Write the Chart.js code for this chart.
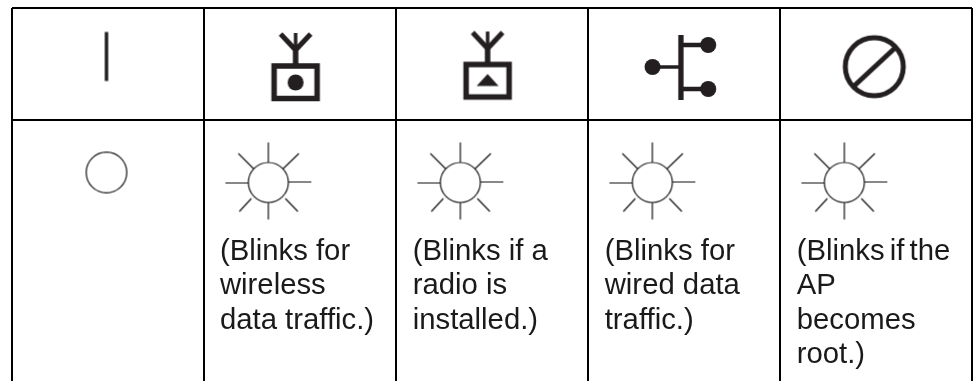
<!DOCTYPE html>
<html>
<head>
<meta charset="utf-8">
<style>
  html, body { margin: 0; background: #fff; }
  canvas { display: block; }
</style>
<script src="https://cdn.jsdelivr.net/npm/chart.js@4"></script>
</head>
<body>
<canvas id="chart" width="974" height="381"></canvas>
<script>
// ── Table values (x in columns, y in px below the top rule) ────────────────
const columnLines = [0, 1, 2, 3, 4, 5];
const rowLines = [0, 112];

const statusIcons = ["power", "radioDot", "radioTriangle", "ethernet", "root"];
const statusX = [0.492, 1.477, 2.477, 3.484, 4.491];
const statusY = [48.5, 58, 56.5, 59, 58.7];

const ledStates = ["off", "sun", "sun", "sun", "sun"];
const ledX = [0.492, 1.335, 2.335, 3.335, 4.335];
const ledY = [164.5, 174.5, 174.5, 174.5, 174.5];

const noteX = [1.083, 2.087, 3.087, 4.087];
const noteY = [252, 252, 252, 252];
const noteLines = [
  ["(Blinks for", "wireless", "data traffic.)"],
  ["(Blinks if a", "radio is", "installed.)"],
  ["(Blinks for", "wired data", "traffic.)"],
  ["(Blinks if the", "AP", "becomes", "root.)"],
];

// ── Icon painters, all drawn around (0, 0) ─────────────────────────────────
const INK = "#231f20";

function antenna(c) {
  c.lineWidth = 5;
  c.beginPath();
  c.moveTo(-15, -32); c.lineTo(0, -16); c.lineTo(15, -32);
  c.stroke();
  c.lineWidth = 3.5;
  c.beginPath();
  c.moveTo(0, -33); c.lineTo(0, -14);
  c.stroke();
  c.lineWidth = 5.5;
  c.beginPath();
  c.moveTo(0, -18); c.lineTo(0, -2);
  c.stroke();
  c.strokeRect(-21.5, 0, 43, 32.5);
}

const painters = {
  power(c) {
    c.lineWidth = 3.5;
    c.beginPath();
    c.moveTo(0, -24.5); c.lineTo(0, 24.5);
    c.stroke();
  },
  radioDot(c) {
    antenna(c);
    c.beginPath();
    c.arc(0, 16.5, 8, 0, Math.PI * 2);
    c.fill();
  },
  radioTriangle(c) {
    antenna(c);
    c.beginPath();
    c.moveTo(0, 9.5); c.lineTo(11, 21.5); c.lineTo(-11, 21.5);
    c.closePath();
    c.fill();
  },
  ethernet(c) {
    c.lineWidth = 5.3;
    c.beginPath();
    c.moveTo(0, -32); c.lineTo(0, 33);
    c.stroke();
    c.lineWidth = 4.5;
    c.beginPath();
    c.moveTo(0, -22); c.lineTo(27, -22);
    c.moveTo(0, 22); c.lineTo(27, 22);
    c.stroke();
    c.lineWidth = 3.5;
    c.beginPath();
    c.moveTo(0, 0); c.lineTo(-28, 0);
    c.stroke();
    [[27.3, -22], [27.3, 22], [-28.4, 0]].forEach(([x, y]) => {
      c.beginPath();
      c.arc(x, y, 8, 0, Math.PI * 2);
      c.fill();
    });
  },
  root(c) {
    c.lineWidth = 5;
    c.beginPath();
    c.arc(0, 0, 29, 0, Math.PI * 2);
    c.moveTo(-20, 19); c.lineTo(22, -20);
    c.stroke();
  },
  off(c) {
    c.strokeStyle = "#111";
    c.lineWidth = 1.2;
    c.beginPath();
    c.arc(0, 0, 20.3, 0, Math.PI * 2);
    c.stroke();
  },
  sun(c) {
    c.strokeStyle = "#111";
    c.lineWidth = 1.2;
    c.beginPath();
    c.arc(0, 0, 20, 0, Math.PI * 2);
    c.moveTo(0, -40); c.lineTo(0, -20);
    c.moveTo(0, 20); c.lineTo(0, 37);
    c.moveTo(-43, 0.5); c.lineTo(-20, 0.5);
    c.moveTo(20, -0.5); c.lineTo(43, -0.5);
    c.moveTo(-30, -29); c.lineTo(-15, -14);
    c.moveTo(30.5, -29); c.lineTo(15, -14);
    c.moveTo(-29, 29); c.lineTo(-17, 16);
    c.moveTo(29.5, 29); c.lineTo(17, 16);
    c.stroke();
  },
};

function iconCanvas(name) {
  const size = 92;
  const cv = document.createElement("canvas");
  cv.width = cv.height = size;
  const c = cv.getContext("2d");
  c.translate(size / 2, size / 2);
  c.strokeStyle = INK;
  c.fillStyle = INK;
  painters[name](c);
  return cv;
}

// ── Multi-line notes under the LEDs ────────────────────────────────────────
const noteLabels = {
  id: "noteLabels",
  afterDatasetsDraw(chart) {
    const { ctx } = chart;
    const points = chart.getDatasetMeta(2).data;
    ctx.save();
    ctx.fillStyle = "#1a1a1a";
    ctx.font = '29.3px "Liberation Sans", Arial, sans-serif';
    ctx.textBaseline = "alphabetic";
    points.forEach((pt, i) => {
      noteLines[i].forEach((line, j) => {
        // the last column's first line is set tighter in the source
        ctx.wordSpacing = line === "(Blinks if the" ? "-3px" : "0px";
        ctx.fillText(line, pt.x, pt.y + j * 34.3);
      });
    });
    ctx.restore();
  },
};

const toPoints = (xs, ys) => xs.map((x, i) => ({ x, y: ys[i] }));
const gridOpts = { color: "#000", lineWidth: 2, drawTicks: false };

new Chart(document.getElementById("chart"), {
  type: "scatter",
  data: {
    datasets: [
      { data: toPoints(statusX, statusY), pointStyle: statusIcons.map(iconCanvas), clip: false },
      { data: toPoints(ledX, ledY), pointStyle: ledStates.map(iconCanvas), clip: false },
      { data: toPoints(noteX, noteY), pointRadius: 0 },
    ],
  },
  options: {
    responsive: false,
    animation: false,
    events: [],
    layout: { autoPadding: false, padding: { left: 12, right: 2, top: 8, bottom: 0 } },
    plugins: { legend: { display: false }, tooltip: { enabled: false } },
    scales: {
      x: {
        type: "linear", min: 0, max: 5,
        afterBuildTicks: axis => { axis.ticks = columnLines.map(value => ({ value })); },
        grid: gridOpts,
        border: { display: false },
        ticks: { display: false },
      },
      y: {
        type: "linear", min: 0, max: 373, reverse: true,
        afterBuildTicks: axis => { axis.ticks = rowLines.map(value => ({ value })); },
        grid: gridOpts,
        border: { display: false },
        ticks: { display: false },
      },
    },
  },
  plugins: [noteLabels],
});
</script>
</body>
</html>
